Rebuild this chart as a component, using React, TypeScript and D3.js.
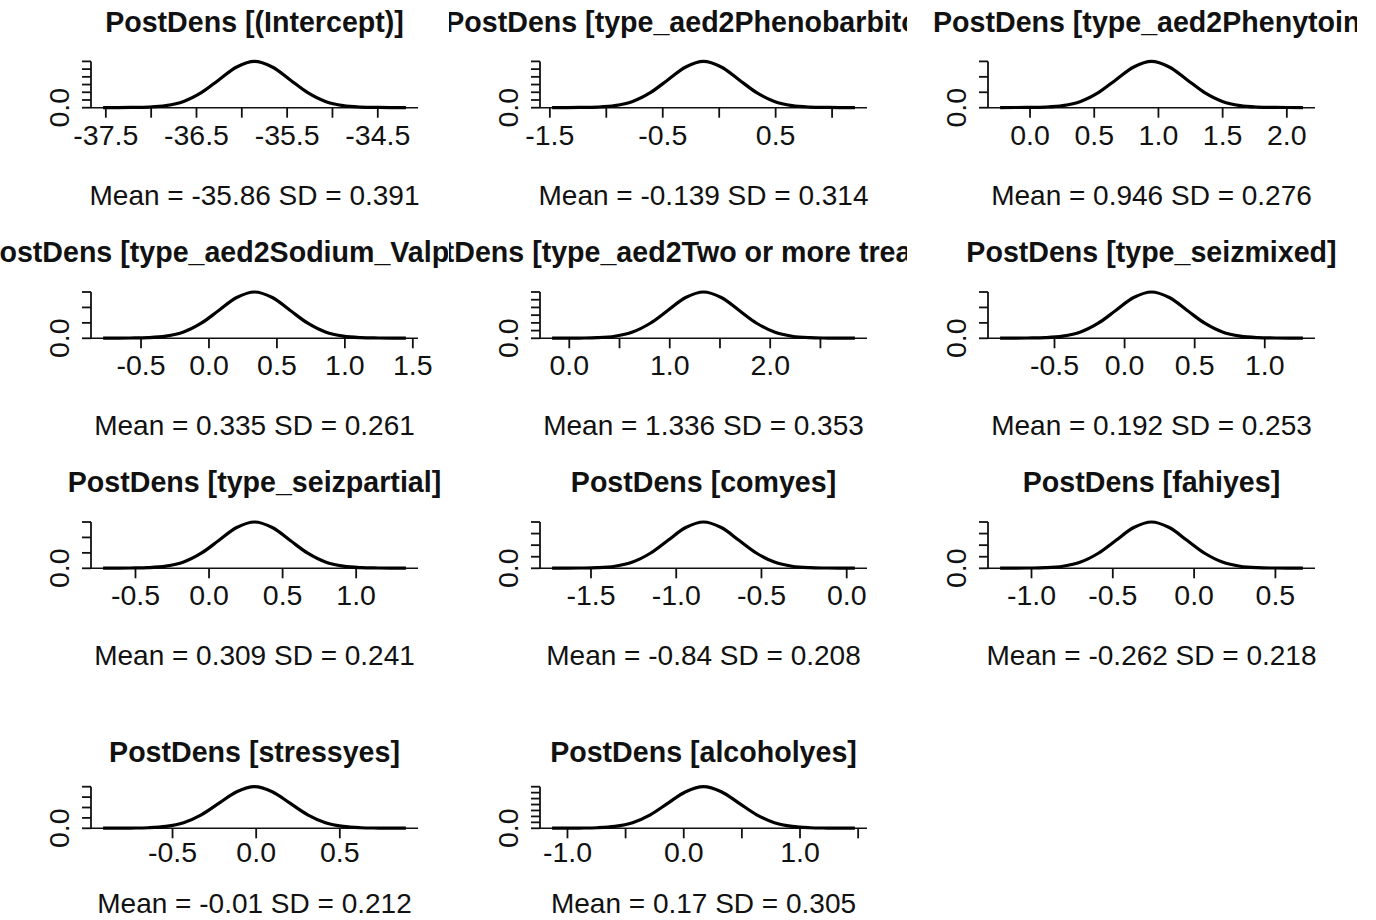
import { useEffect, useRef } from 'react';
import * as d3 from 'd3';

// Panel titles, in reading order (3 per row)
const titles = [
  'PostDens [(Intercept)]',
  'PostDens [type_aed2Phenobarbitone]',
  'PostDens [type_aed2Phenytoin]',
  'PostDens [type_aed2Sodium_Valproate]',
  'PostDens [type_aed2Two or more treatments]',
  'PostDens [type_seizmixed]',
  'PostDens [type_seizpartial]',
  'PostDens [comyes]',
  'PostDens [fahiyes]',
  'PostDens [stressyes]',
  'PostDens [alcoholyes]',
];

const means = [-35.86, -0.139, 0.946, 0.335, 1.336, 0.192, 0.309, -0.84, -0.262, -0.01, 0.17];
const sds = ['0.391', '0.314', '0.276', '0.261', '0.353', '0.253', '0.241', '0.208', '0.218', '0.212', '0.305'];

// x positions of the density curves
const curveX = [
  [-37.53, -37.229, -37.033, -36.838, -36.642, -36.447, -36.251, -36.056, -35.86, -35.664, -35.469, -35.273, -35.078, -34.882, -34.687, -34.491, -34.19],
  [-1.48, -1.238, -1.081, -0.924, -0.767, -0.61, -0.453, -0.296, -0.139, 0.018, 0.175, 0.332, 0.489, 0.646, 0.803, 0.96, 1.202],
  [-0.233, -0.02, 0.118, 0.256, 0.394, 0.532, 0.67, 0.808, 0.946, 1.084, 1.222, 1.36, 1.498, 1.636, 1.774, 1.912, 2.125],
  [-0.779, -0.579, -0.448, -0.318, -0.187, -0.057, 0.074, 0.204, 0.335, 0.466, 0.596, 0.727, 0.857, 0.988, 1.118, 1.249, 1.449],
  [-0.171, 0.1, 0.277, 0.453, 0.63, 0.806, 0.983, 1.159, 1.336, 1.513, 1.689, 1.866, 2.042, 2.219, 2.395, 2.572, 2.843],
  [-0.888, -0.694, -0.567, -0.441, -0.314, -0.188, -0.061, 0.065, 0.192, 0.319, 0.445, 0.572, 0.698, 0.825, 0.951, 1.078, 1.272],
  [-0.72, -0.535, -0.414, -0.294, -0.173, -0.053, 0.068, 0.188, 0.309, 0.43, 0.55, 0.671, 0.791, 0.912, 1.032, 1.153, 1.338],
  [-1.728, -1.568, -1.464, -1.36, -1.256, -1.152, -1.048, -0.944, -0.84, -0.736, -0.632, -0.528, -0.424, -0.32, -0.216, -0.112, 0.048],
  [-1.193, -1.025, -0.916, -0.807, -0.698, -0.589, -0.48, -0.371, -0.262, -0.153, -0.044, 0.065, 0.174, 0.283, 0.392, 0.501, 0.669],
  [-0.915, -0.752, -0.646, -0.54, -0.434, -0.328, -0.222, -0.116, -0.01, 0.096, 0.202, 0.308, 0.414, 0.52, 0.626, 0.732, 0.895],
  [-1.132, -0.898, -0.745, -0.593, -0.44, -0.288, -0.135, 0.017, 0.17, 0.323, 0.475, 0.628, 0.78, 0.933, 1.085, 1.238, 1.472],
];

// density heights at those positions
const d12 = [0.002, 0.007, 0.016, 0.054, 0.162, 0.39, 0.726, 1.056, 1.2, 1.056, 0.726, 0.39, 0.162, 0.054, 0.016, 0.007, 0.002];
const d15 = [0.003, 0.009, 0.02, 0.068, 0.203, 0.488, 0.908, 1.32, 1.5, 1.32, 0.908, 0.488, 0.203, 0.068, 0.02, 0.009, 0.003];
const d20 = [0.004, 0.012, 0.026, 0.09, 0.27, 0.65, 1.21, 1.76, 2.0, 1.76, 1.21, 0.65, 0.27, 0.09, 0.026, 0.012, 0.004];
const d14 = [0.003, 0.008, 0.018, 0.063, 0.189, 0.455, 0.847, 1.232, 1.4, 1.232, 0.847, 0.455, 0.189, 0.063, 0.018, 0.008, 0.003];
const curveY = [d12, d12, d15, d15, d12, d15, d15, d20, d20, d20, d14];

const yTicks = [
  [0, 0.2, 0.4, 0.6, 0.8, 1.0, 1.2],
  [0, 0.2, 0.4, 0.6, 0.8, 1.0, 1.2],
  [0, 0.5, 1.0, 1.5],
  [0, 0.5, 1.0, 1.5],
  [0, 0.2, 0.4, 0.6, 0.8, 1.0, 1.2],
  [0, 0.5, 1.0, 1.5],
  [0, 0.5, 1.0, 1.5],
  [0, 0.5, 1.0, 1.5, 2.0],
  [0, 0.5, 1.0, 1.5, 2.0],
  [0, 0.5, 1.0, 1.5, 2.0],
  [0, 0.2, 0.4, 0.6, 0.8, 1.0, 1.2, 1.4],
];

const xTicks = [
  [-37.5, -37, -36.5, -36, -35.5, -35, -34.5],
  [-1.5, -1, -0.5, 0, 0.5, 1],
  [0, 0.5, 1, 1.5, 2],
  [-0.5, 0, 0.5, 1, 1.5],
  [0, 0.5, 1, 1.5, 2, 2.5],
  [-0.5, 0, 0.5, 1],
  [-0.5, 0, 0.5, 1],
  [-1.5, -1, -0.5, 0],
  [-1, -0.5, 0, 0.5],
  [-0.5, 0, 0.5],
  [-1, -0.5, 0, 0.5, 1, 1.5],
];

// labels that R kept (others dropped for overlap)
const xLabels = [
  [-37.5, -36.5, -35.5, -34.5],
  [-1.5, -0.5, 0.5],
  [0, 0.5, 1, 1.5, 2],
  [-0.5, 0, 0.5, 1, 1.5],
  [0, 1, 2],
  [-0.5, 0, 0.5, 1],
  [-0.5, 0, 0.5, 1],
  [-1.5, -1, -0.5, 0],
  [-1, -0.5, 0, 0.5],
  [-0.5, 0, 0.5],
  [-1, 0, 1],
];

const W = 1376, H = 920;
const colLeft = [91, 540, 988];
const plotW = 327;
const colClip = [[0, 448], [449, 907], [908, 1357]];
const rowBase = [107.7, 338.3, 568.3, 828.3];
const rowPlotH = [46.3, 46.3, 46.3, 41.6];
const rowTitleOff = [76, 76, 76, 66.6];
const rowTickOff = [37, 37, 37, 34];
const rowMeanOff = [97, 97, 97, 85];
const FONT = "'Liberation Sans', Arial, Helvetica, sans-serif";
const INK = '#111';

function App() {
  const svgRef = useRef<SVGSVGElement>(null);

  useEffect(() => {
    const svg = d3.select(svgRef.current);
    svg.selectAll('*').remove();

    const defs = svg.append('defs');
    colClip.forEach(([a, b], i) => {
      defs.append('clipPath').attr('id', `col-clip-${i}`)
        .append('rect').attr('x', a).attr('y', 0).attr('width', b - a).attr('height', H);
    });

    titles.forEach((title, i) => {
      const row = Math.floor(i / 3), col = i % 3;
      const x0 = colLeft[col];
      const base = rowBase[row];
      const xs = curveX[i], ys = curveY[i];
      const [lo, hi] = d3.extent(xs) as [number, number];
      const pad = (hi - lo) * 0.04;

      const x = d3.scaleLinear().domain([lo - pad, hi + pad]).range([x0, x0 + plotW]);
      const y = d3.scaleLinear().domain([0, d3.max(ys) as number]).range([base, base - rowPlotH[row]]);
      const cx = x0 + plotW / 2;

      const g = svg.append('g').attr('font-family', FONT).attr('fill', INK);

      // Title, clipped to its figure column
      g.append('text')
        .attr('clip-path', `url(#col-clip-${col})`)
        .attr('x', cx).attr('y', base - rowTitleOff[row])
        .attr('text-anchor', 'middle')
        .attr('font-size', 28.6).attr('font-weight', 'bold')
        .text(title);

      // Baseline (y = 0)
      g.append('line')
        .attr('x1', x.range()[0]).attr('x2', x.range()[1])
        .attr('y1', y(0)).attr('y2', y(0))
        .attr('stroke', INK).attr('stroke-width', 1.6);

      // x ticks + labels
      xTicks[i].forEach(t => {
        g.append('line')
          .attr('x1', x(t)).attr('x2', x(t))
          .attr('y1', y(0)).attr('y2', y(0) + 10)
          .attr('stroke', INK).attr('stroke-width', 1.8);
      });
      xLabels[i].forEach(t => {
        g.append('text')
          .attr('x', x(t)).attr('y', base + rowTickOff[row])
          .attr('text-anchor', 'middle').attr('font-size', 28.5)
          .text(t.toFixed(1));
      });

      // y axis
      const yt = yTicks[i];
      g.append('line')
        .attr('x1', x0).attr('x2', x0)
        .attr('y1', y(yt[0])).attr('y2', y(yt[yt.length - 1]))
        .attr('stroke', INK).attr('stroke-width', 1.8);
      yt.forEach(t => {
        g.append('line')
          .attr('x1', x0 - 9).attr('x2', x0)
          .attr('y1', y(t)).attr('y2', y(t))
          .attr('stroke', INK).attr('stroke-width', 1.8);
      });
      g.append('text')
        .attr('transform', `translate(${x0 - 22},${y(0)}) rotate(-90)`)
        .attr('text-anchor', 'middle').attr('font-size', 28.5)
        .text('0.0');

      // density curve
      const line = d3.line<number>()
        .x((_, k) => x(xs[k]))
        .y(d => y(d))
        .curve(d3.curveCatmullRom);
      g.append('path')
        .datum(ys)
        .attr('fill', 'none')
        .attr('stroke', '#000')
        .attr('stroke-width', 3.2)
        .attr('stroke-linejoin', 'round')
        .attr('d', line);

      // summary line
      g.append('text')
        .attr('x', cx).attr('y', base + rowMeanOff[row])
        .attr('text-anchor', 'middle').attr('font-size', 28)
        .text(`Mean = ${means[i]} SD = ${sds[i]}`);
    });
  }, []);

  return (
    <svg
      ref={svgRef}
      width={W}
      height={H}
      style={{ position: 'absolute', left: 0, top: 0, background: '#fff' }}
    />
  );
}

export default App;
